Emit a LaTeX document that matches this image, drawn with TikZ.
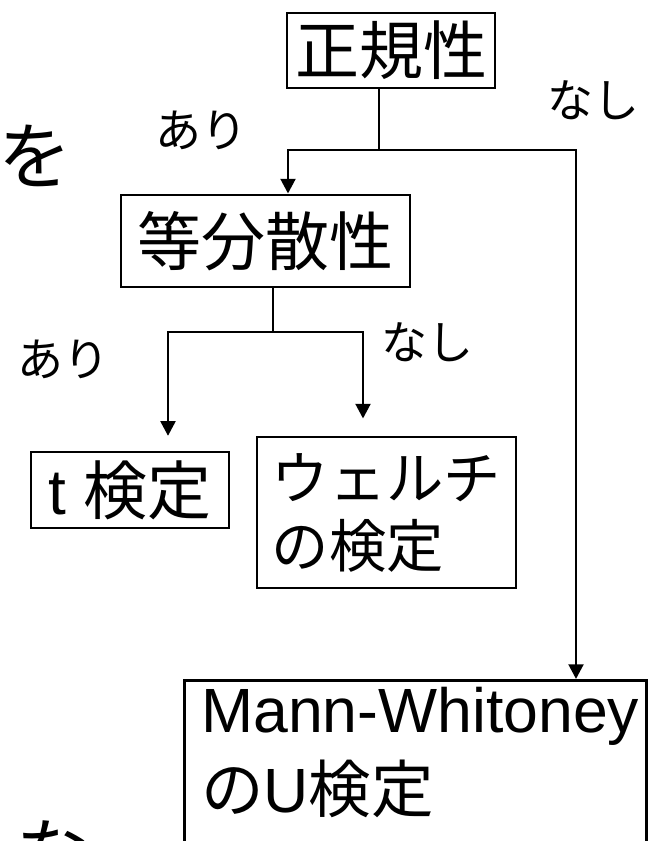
\documentclass[tikz,border=0pt]{standalone}
\usepackage{fontspec}
\setmainfont{Liberation Sans}
\newfontfamily\jp{Noto Sans CJK JP}
\usetikzlibrary{arrows.meta}
\begin{document}
\begin{tikzpicture}[x=0.75pt,y=-0.75pt,
  box/.style={draw, line width=2.2pt, inner sep=0pt},
  conn/.style={line width=2.2pt},
  arr/.style={conn, -{Triangle[width=11pt,length=11pt]}},
  boxtext/.style={font=\fontsize{48}{51}\selectfont\jp},
  welchtext/.style={font=\fontsize{43}{51}\selectfont\jp},
  lbl/.style={font=\fontsize{34.5}{40}\selectfont\jp, inner sep=0pt},
  big/.style={font=\fontsize{55}{60}\selectfont\jp, inner sep=0pt}]
\path[use as bounding box, clip] (0,0) rectangle (652,841);
% boxes
\node[box, boxtext, minimum width=156pt, minimum height=56.25pt] (nk) at (391,50.5) {正規性};
\node[box, boxtext, minimum width=216.75pt, minimum height=69pt] (tb) at (265.5,241) {等分散性};
\node[box, boxtext, minimum width=148.5pt, minimum height=57pt] (tt) at (130,490) {\rmfamily t \jp 検定};
\node[box, welchtext, align=left, minimum width=194.25pt, minimum height=113.25pt] (we) at (386.5,512.5) {ウェルチ\\の検定};
\node[box, anchor=north west, minimum width=346.5pt, minimum height=150pt] (mw) at (183,679) {};
\node[anchor=north west, inner sep=0pt, align=left, font=\fontsize{46.9}{60}\selectfont] (mwt) at (201,687) {Mann-Whitoney\\{\jp の}U{\jp 検定}};
% labels
\node[lbl] (l1) at (201,130.5) {あり};
\node[lbl] (l2) at (593.5,100) {なし};
\node[lbl] (l3) at (63.5,359) {あり};
\node[lbl] (l4) at (427.5,342.5) {なし};
\node[big] (w1) at (35,155.5) {を};
\node[big] (w2) at (53,852) {な};
% connectors
\coordinate (j1) at (379,150);
\coordinate (c1) at (288,150);
\coordinate (c2) at (576,150);
\draw[conn] (nk.south -| j1) -- (j1);
\draw[arr] (j1) -- (c1) -- (c1 |- tb.north);
\draw[arr] (j1) -- (c2) -- (c2 |- mw.north);
\coordinate (j2) at (273,332);
\coordinate (c3) at (168,332);
\coordinate (c4) at (363,332);
\draw[conn] (tb.south -| j2) -- (j2);
\draw[arr, shorten >=11pt] (j2) -- (c3) -- (c3 |- tt.north);
\draw[arr, shorten >=12.75pt] (j2) -- (c4) -- (c4 |- we.north);
\end{tikzpicture}
\end{document}
